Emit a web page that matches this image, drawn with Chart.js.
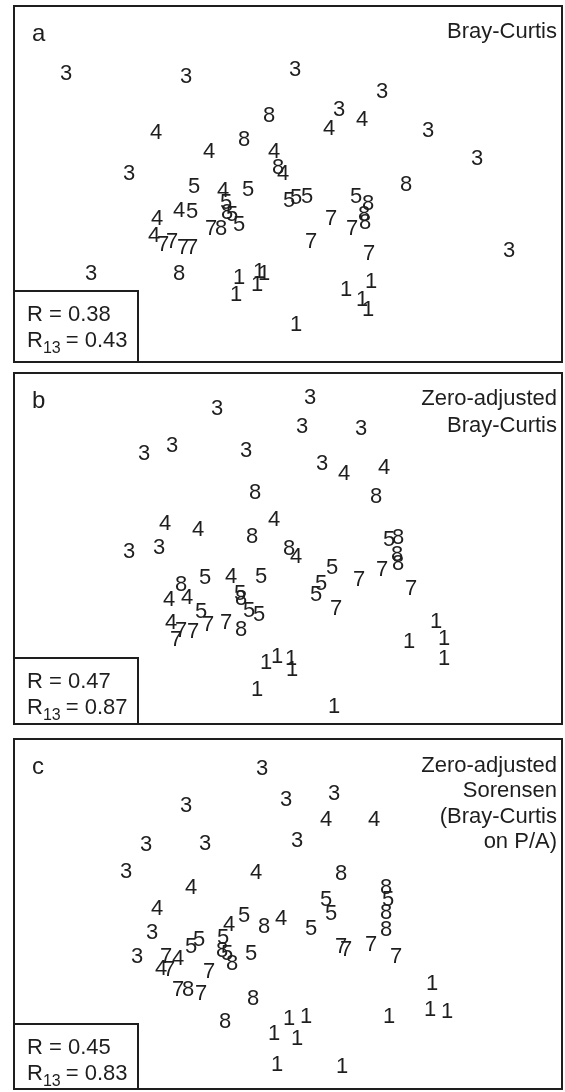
<!DOCTYPE html>
<html>
<head>
<meta charset="utf-8">
<script src="https://cdn.jsdelivr.net/npm/chart.js@4"></script>
<style>
  html, body { margin: 0; padding: 0; background: #fff; }
  body { width: 565px; height: 1092px; position: relative; overflow: hidden; }
  canvas { position: absolute; left: 13px; }
</style>
</head>
<body>
<canvas id="pa" width="550" height="358" style="top:5px"></canvas>
<canvas id="pb" width="550" height="353" style="top:372px"></canvas>
<canvas id="pc" width="550" height="352" style="top:738px"></canvas>
<script>
// NMDS ordinations of the same samples under three dissimilarity measures.
// Each sample is plotted as its group number.

// (a) Bray-Curtis
const aGroup = [3,3,3,3,3,3,3,3,3,3, 4,4,4,4,4,4,4,4,4,4, 8,8,8,8,8,8,8,8,8,8, 5,5,5,5,5,5,5,5,5,5, 7,7,7,7,7,7,7,7,7, 1,1,1,1,1,1,1,1,1,1];
const aX = [-2.22,-1.02,0.07,0.94,0.51,1.40,1.89,-1.59,-1.97,2.21,
            -1.32,-0.79,-0.14,-0.05,0.41,0.74,-0.65,-1.31,-1.09,-1.34,
            -0.19,-0.44,-0.10,1.18,-0.61,-0.67,0.80,0.76,0.77,-1.09,
            -0.94,-0.40,-0.62,-0.56,-0.49,-0.96,0.01,0.08,0.19,0.68,
            -0.77,-1.25,-1.16,-1.05,-0.96,0.43,0.64,0.23,0.81,
            -0.49,-0.52,-0.31,-0.29,-0.24,0.83,0.58,0.74,0.80,0.08];
const aY = [1.12,1.09,1.16,0.94,0.76,0.55,0.27,0.12,-0.88,-0.65,
            0.53,0.34,0.34,0.12,0.57,0.66,-0.05,-0.33,-0.25,-0.50,
            0.70,0.46,0.18,0.01,-0.27,-0.43,-0.18,-0.29,-0.37,-0.88,
            -0.01,-0.04,-0.17,-0.29,-0.39,-0.26,-0.15,-0.12,-0.11,-0.11,
            -0.43,-0.59,-0.56,-0.62,-0.62,-0.33,-0.43,-0.56,-0.68,
            -0.92,-1.09,-0.99,-0.86,-0.88,-0.96,-1.04,-1.14,-1.24,-1.39];

// (b) Zero-adjusted Bray-Curtis
const bGroup = [3,3,3,3,3,3,3,3,3,3, 4,4,4,4,4,4,4,4,4,4, 8,8,8,8,8,8,8,8,8,8, 5,5,5,5,5,5,5,5,5,5, 7,7,7,7,7,7,7,7,7, 1,1,1,1,1,1,1,1,1,1];
const bX = [-0.71,-1.44,-1.16,-0.42,-1.59,-1.29,0.22,0.14,0.73,0.34,
            -1.23,-0.90,-0.14,0.56,0.96,0.08,-0.57,-1.19,-1.01,-1.17,
            -0.33,-0.36,0.88,1.10,0.01,-1.07,-0.47,-0.47,1.09,1.10,
            1.01,-0.83,-0.27,-0.48,-0.39,-0.29,-0.87,0.44,0.33,0.28,
            -1.07,-0.95,-0.80,-0.62,-1.12,0.71,0.94,1.23,0.48,
            -0.22,-0.11,0.03,0.04,-0.31,0.46,1.48,1.56,1.21,1.56];
const bY = [1.41,0.96,1.04,0.99,-0.02,0.02,1.52,1.23,1.21,0.86,
            0.26,0.20,0.30,0.76,0.82,-0.07,-0.27,-0.50,-0.48,-0.73,
            0.57,0.13,0.53,0.12,0.01,-0.35,-0.49,-0.80,-0.05,-0.14,
            0.10,-0.28,-0.27,-0.44,-0.61,-0.65,-0.62,-0.18,-0.34,-0.45,
            -0.81,-0.82,-0.75,-0.73,-0.90,-0.30,-0.20,-0.39,-0.59,
            -1.13,-1.07,-1.09,-1.20,-1.40,-1.57,-0.72,-0.89,-0.92,-1.09];

// (c) Zero-adjusted Sorensen (Bray-Curtis on presence/absence)
const cGroup = [3,3,3,3,3,3,3,3,3,3, 4,4,4,4,4,4,4,4,4, 8,8,8,8,8,8,8,8,8,8, 5,5,5,5,5,5,5,5,5,5, 7,7,7,7,7,7,7,7,7, 1,1,1,1,1,1,1,1,1,1];
const cX = [-0.26,-1.02,-1.42,-0.83,-1.62,-0.02,0.46,0.09,-1.36,-1.51,
            -0.32,-0.97,-1.31,0.38,0.86,-1.10,-1.27,-0.59,-0.07,
            0.53,0.98,-0.24,-0.66,-0.56,-1.00,-0.35,-0.63,0.98,0.98,
            1.00,0.38,-0.97,-0.89,-0.44,-0.65,-0.61,-0.37,0.43,0.23,
            -1.22,-1.19,-0.79,-1.10,-0.87,0.53,0.58,0.83,1.08,
            1.44,1.42,1.59,1.01,0.01,0.18,0.09,0.54,-0.14,-0.11];
const cY = [1.47,1.10,0.71,0.72,0.44,1.16,1.22,0.75,-0.17,-0.41,
            0.43,0.28,0.07,0.96,0.96,-0.43,-0.53,-0.09,-0.03,
            0.42,0.28,-0.11,-0.35,-0.48,-0.74,-0.83,-1.06,0.03,-0.14,
            0.16,0.16,-0.31,-0.24,0.00,-0.22,-0.38,-0.38,0.02,-0.13,
            -0.41,-0.54,-0.56,-0.74,-0.78,-0.31,-0.34,-0.29,-0.41,
            -0.68,-0.94,-0.96,-1.01,-1.03,-1.01,-1.23,-1.51,-1.18,-1.49];

// Panel annotations
const letters = ['a', 'b', 'c'];
const titles = [
  ['Bray-Curtis'],
  ['Zero-adjusted', 'Bray-Curtis'],
  ['Zero-adjusted', 'Sorensen', '(Bray-Curtis', 'on P/A)']
];
const rGlobal = ['0.38', '0.47', '0.45'];
const r13 = ['0.43', '0.87', '0.83'];

const FONT = '"Liberation Sans", Arial, Helvetica, sans-serif';
const INK = '#1e1e1e';

function panelPlugin(idx, titleBaselines) {
  return {
    id: 'panelDecor' + idx,
    afterDatasetsDraw(chart) {
      const ctx = chart.ctx;
      const a = chart.chartArea;
      const w = a.right - a.left, h = a.bottom - a.top;
      ctx.save();
      ctx.fillStyle = INK;
      ctx.strokeStyle = INK;

      // group numbers at the sample positions
      ctx.font = '22px ' + FONT;
      ctx.textAlign = 'center';
      ctx.textBaseline = 'alphabetic';
      const meta = chart.getDatasetMeta(0);
      const grp = chart.data.datasets[0].groups;
      meta.data.forEach((el, i) => {
        ctx.fillText(String(grp[i]), el.x, el.y + 7.9);
      });

      // panel letter
      ctx.textAlign = 'left';
      ctx.font = '24px ' + FONT;
      ctx.fillText(letters[idx], a.left + 19, a.top + 36);

      // measure name, right aligned
      ctx.font = '22px ' + FONT;
      ctx.textAlign = 'right';
      titles[idx].forEach((t, k) => ctx.fillText(t, a.left + 544, a.top + titleBaselines[k]));

      // frame
      ctx.lineWidth = 2;
      ctx.strokeRect(a.left + 1, a.top + 1, w - 2, h - 2);

      // statistics box
      ctx.fillStyle = '#fff';
      ctx.fillRect(a.left + 1, a.top + 286, 124, h - 287);
      ctx.fillStyle = INK;
      ctx.strokeRect(a.left + 1, a.top + 286, 124, h - 287);
      ctx.textAlign = 'left';
      ctx.font = '22px ' + FONT;
      const x0 = a.left + 14;
      ctx.fillText('R = ' + rGlobal[idx], x0, a.top + 316);
      const yb = a.top + 342;
      ctx.fillText('R', x0, yb);
      let x = x0 + ctx.measureText('R').width;
      ctx.font = '16px ' + FONT;
      ctx.fillText('13', x, yb + 6);
      x += ctx.measureText('13').width;
      ctx.font = '22px ' + FONT;
      ctx.fillText(' = ' + r13[idx], x - 1, yb);
      ctx.restore();
    }
  };
}

function makePanel(id, idx, groups, xs, ys, yMin, yMax, titleBaselines) {
  new Chart(document.getElementById(id), {
    type: 'scatter',
    data: {
      datasets: [{
        data: xs.map((x, i) => ({ x: x, y: ys[i] })),
        groups: groups,
        pointRadius: 0,
        pointHoverRadius: 0,
        showLine: false
      }]
    },
    options: {
      responsive: false,
      animation: false,
      devicePixelRatio: 1,
      events: [],
      layout: { padding: 0 },
      plugins: { legend: { display: false }, tooltip: { enabled: false } },
      scales: {
        x: { type: 'linear', min: -2.75, max: 2.75, display: false },
        y: { type: 'linear', min: yMin, max: yMax, display: false }
      }
    },
    plugins: [panelPlugin(idx, titleBaselines)]
  });
}

makePanel('pa', 0, aGroup, aX, aY, -1.79, 1.79, [33]);
makePanel('pb', 1, bGroup, bX, bY, -1.77, 1.76, [33, 60]);
makePanel('pc', 2, cGroup, cX, cY, -1.76, 1.76, [34, 59, 85, 110]);
</script>
</body>
</html>
